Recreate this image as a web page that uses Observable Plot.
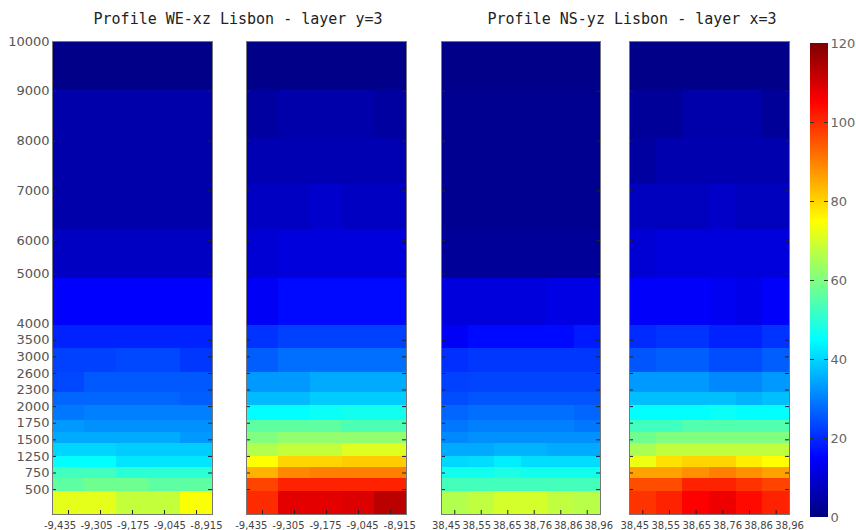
<!DOCTYPE html>
<html>
<head>
<meta charset="utf-8">
<script src="https://cdn.jsdelivr.net/npm/d3@7"></script>
<script src="https://cdn.jsdelivr.net/npm/@observablehq/plot@0.6"></script>
<style>
  html, body { margin: 0; padding: 0; background: #fff; }
  #chart { position: relative; width: 856px; height: 530px; overflow: hidden; }
  .panel { position: absolute; top: 0; }
  .title { position: absolute; top: 12px; font-family: "DejaVu Sans Mono", monospace; font-size: 15px; line-height: 15px; color: #222; white-space: nowrap; transform: translateX(-50%); }
</style>
</head>
<body>
<div id="chart"></div>
<script>
// ---- data ----
const titles = ["Profile WE-xz Lisbon - layer y=3", "Profile NS-yz Lisbon - layer x=3"];
const levelLabels = ["500","750","1250","1500","1750","2000","2300","2600","3000","3500","4000","5000","6000","7000","8000","9000","10000"];
// position of each level label on the vertical layer axis
const levelIndex = [1.5, 2.5, 3.5, 4.5, 5.5, 6.5, 7.5, 8.5, 9.5, 10.5, 11.5, 14.5, 16.5, 19.5, 22.5, 25.5, 28.5];
// edges of the 18 model layers on the same axis (bottom to top)
const layerEdges = [0, 1.38, 2.16, 2.83, 3.49, 4.27, 4.93, 5.65, 6.55, 7.34, 8.54, 9.98, 11.37, 14.25, 17.2, 19.9, 22.67, 25.6, 28.5];
const lonLabels = ["-9,435", "-9,305", "-9,175", "-9,045", "-8,915"];
const latLabels = ["38,45", "38,55", "38,65", "38,76", "38,86", "38,96"];
const colorbarTicks = [0, 20, 40, 60, 80, 100, 120];

// values per layer (rows bottom -> top), per column
const weLeft = [
  [72, 72, 68, 68, 74.5],
  [56, 58, 58, 56, 56],
  [52.5, 52.5, 50, 50, 50],
  [45, 45, 42, 42, 42],
  [40, 40, 39, 39, 39],
  [35, 35, 35, 35, 33],
  [33, 32, 32, 32, 32],
  [29, 30, 30, 30, 30],
  [27, 27, 27, 27, 26],
  [23.5, 25.5, 25.5, 25.5, 25.5],
  [22.5, 22.5, 23.5, 23.5, 21.5],
  [19, 19, 19, 19, 19],
  [15, 15, 15, 15, 15],
  [8, 8, 8, 8, 8],
  [5, 5, 5, 5, 5],
  [5, 5, 5, 5, 5],
  [5, 5, 5, 5, 5],
  [1, 1, 1, 1, 1]
];
const weRight = [
  [100, 108, 108, 109, 113],
  [97, 101, 101, 101, 101],
  [84, 89, 90, 90, 90],
  [75, 80, 80, 81, 81],
  [66, 68, 68, 71, 71],
  [60, 62, 62, 62, 62],
  [56, 56, 56, 54, 54],
  [45, 45, 46, 47, 47],
  [37, 37, 39, 39, 39],
  [33, 33, 35, 35, 35],
  [26, 28, 28, 28, 28],
  [21, 22.5, 22.5, 22.5, 22.5],
  [14, 16, 16, 16, 16],
  [10, 11, 11, 11, 11],
  [8, 8, 9, 8, 8],
  [6, 6, 6, 6, 6],
  [4, 5, 5, 5, 4],
  [1, 1, 1, 1, 1]
];
const nsLeft = [
  [66, 67.5, 70, 70, 67.5, 66.5],
  [53, 53, 53, 53, 53, 53],
  [47, 47, 48, 47, 47, 47],
  [40.5, 41, 43, 41, 41, 41],
  [35, 35, 36, 36, 35, 35],
  [31, 32, 32, 32, 32, 32],
  [29, 30, 30, 30, 30, 29],
  [27, 28, 28, 28, 28, 27],
  [24, 25, 25, 25, 25, 25],
  [22.5, 23, 23, 23, 23, 23],
  [20.5, 21.5, 21.5, 21.5, 21.5, 21.5],
  [14, 16, 16, 16, 16, 18],
  [11, 11, 11, 11, 12, 12],
  [3, 3, 3, 3, 3, 3],
  [2, 2, 2, 2, 2, 2],
  [2, 2, 2, 2, 2, 2],
  [2, 2, 2, 2, 2, 2],
  [1, 1, 1, 1, 1, 1]
];
const nsRight = [
  [99, 101, 105, 107, 104, 101],
  [96, 96, 101, 101, 99, 97],
  [86, 86, 88, 90, 88, 86],
  [73, 78.5, 80, 80, 77, 75],
  [65, 67.5, 67.5, 67.5, 67.5, 67.5],
  [58, 60, 60, 60, 60, 60],
  [52.5, 52.5, 54.5, 54.5, 54.5, 54.5],
  [45, 45, 45, 46, 45, 45],
  [37.5, 37.5, 37.5, 37.5, 36, 37.5],
  [33, 33, 33, 31, 31, 33],
  [25, 26, 26, 24, 24, 26],
  [20, 21, 21, 19, 19, 21],
  [14.5, 14.5, 14.5, 13.5, 12.5, 14.5],
  [10, 11, 11, 11, 11, 11],
  [7.5, 7.5, 7.5, 8.5, 7.5, 7.5],
  [4, 5.5, 5.5, 5.5, 5.5, 5.5],
  [3, 3, 5, 5, 5, 3],
  [1, 1, 1, 1, 1, 1]
];

// ---- shared jet colour scale ----
const colorOpts = {
  type: "linear",
  domain: [0, 15, 45, 75, 105, 120],
  range: ["#00007f", "#0000ff", "#00ffff", "#ffff00", "#ff0000", "#7f0000"],
  interpolate: "rgb",
  clamp: true
};

const H = 530, MT = 41, MB = 16;
const innerH = H - MT - MB;

function cells(grid) {
  return grid.flatMap((row, i) => row.map((v, j) => ({i, j, v})));
}

function panel(grid, labels, {left, innerW, showY, spread, shift}) {
  const n = labels.length;
  const ml = showY ? 52 : 24, mr = 24;
  const cols = d3.range(n);
  const marks = [
    Plot.rect(cells(grid), {
      x1: d => d.j - 0.5, x2: d => d.j + 0.5,
      y1: d => layerEdges[d.i], y2: d => layerEdges[d.i + 1],
      fill: d => d.v, shapeRendering: "crispEdges"
    }),
    Plot.tickX(cols, {x: d => d, insetTop: innerH - 4, stroke: "#222"}),
    Plot.tickY(levelIndex, {y: d => d, insetRight: innerW - 4, stroke: "#222"}),
    Plot.tickY(levelIndex, {y: d => d, insetLeft: innerW - 4, stroke: "#222"}),
    Plot.frame({stroke: "#777"}),
    // tick labels, spread slightly wider than the tick marks as in the original
    ...cols.map(i => Plot.axisX([i], {anchor: "bottom", tickSize: 0, tickPadding: 7,
      tickFormat: k => labels[k], fontSize: 10, fill: "#444",
      dx: (i - (n - 1) / 2) * spread + shift}))
  ];
  if (showY) {
    marks.push(Plot.axisY(levelIndex, {anchor: "left", tickSize: 0, tickPadding: 3,
      tickFormat: d => levelLabels[levelIndex.indexOf(d)], fontSize: 13, fill: "#555"}));
  }
  const svg = Plot.plot({
    width: ml + innerW + mr, height: H,
    marginTop: MT, marginBottom: MB, marginLeft: ml, marginRight: mr,
    style: {fontFamily: "DejaVu Sans, sans-serif", background: "transparent", overflow: "visible"},
    x: {domain: [-0.5, n - 0.5], axis: null},
    y: {domain: [0, 28.5], axis: null},
    color: colorOpts,
    marks
  });
  const wrap = document.createElement("div");
  wrap.className = "panel";
  wrap.style.left = (left - ml) + "px";
  wrap.appendChild(svg);
  return wrap;
}

const chart = document.getElementById("chart");
chart.appendChild(panel(weLeft, lonLabels, {left: 52, innerW: 160, showY: true, spread: 4.6, shift: 0.7}));
chart.appendChild(panel(weRight, lonLabels, {left: 246, innerW: 160, showY: false, spread: 5.1, shift: -1}));
chart.appendChild(panel(nsLeft, latLabels, {left: 441, innerW: 159, showY: false, spread: 4, shift: 1.5}));
chart.appendChild(panel(nsRight, latLabels, {left: 629, innerW: 160, showY: false, spread: 4.3, shift: 2.7}));

// colour bar
const ramp = d3.range(0, 120, 0.5);
const cb = Plot.plot({
  width: 56, height: H,
  marginTop: 43, marginBottom: 13, marginLeft: 10, marginRight: 28,
  style: {fontFamily: "DejaVu Sans, sans-serif", background: "transparent", overflow: "visible"},
  y: {domain: [0, 120], axis: null},
  color: colorOpts,
  marks: [
    Plot.rect(ramp, {y1: d => d, y2: d => d + 0.5, fill: d => d + 0.25, shapeRendering: "crispEdges"}),
    Plot.tickY(colorbarTicks.slice(1, -1), {y: d => d, insetRight: 14, stroke: "#333"}),
    Plot.tickY(colorbarTicks.slice(1, -1), {y: d => d, insetLeft: 14, stroke: "#333"}),
    Plot.axisY(colorbarTicks, {anchor: "right", tickSize: 0, tickPadding: 2, fontSize: 13, fill: "#666"})
  ]
});
const cbWrap = document.createElement("div");
cbWrap.className = "panel";
cbWrap.style.left = "800px";
cbWrap.appendChild(cb);
chart.appendChild(cbWrap);

// titles
[[titles[0], 238], [titles[1], 632]].forEach(([t, cx]) => {
  const d = document.createElement("div");
  d.className = "title";
  d.style.left = cx + "px";
  d.textContent = t;
  chart.appendChild(d);
});
</script>
</body>
</html>
